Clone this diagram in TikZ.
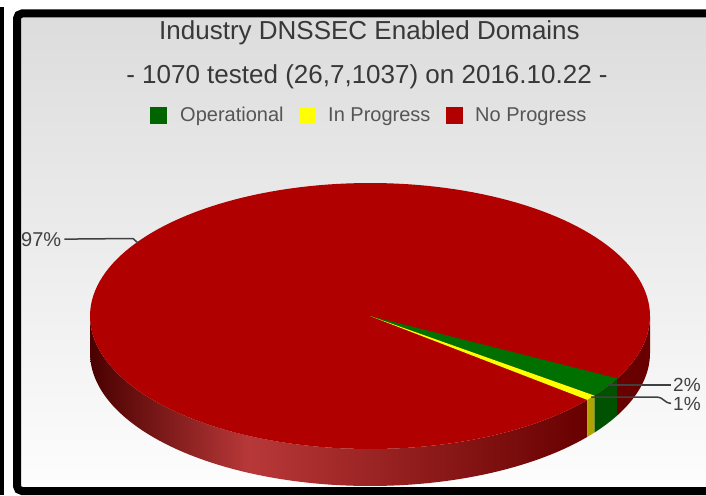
\documentclass[tikz,border=0pt]{standalone}
\usepackage{fontspec}
\setmainfont{Liberation Sans}
\definecolor{bgtop}{HTML}{DCDCDC}
\definecolor{bgbot}{HTML}{FDFDFD}
\definecolor{redtop}{HTML}{B00000}
\definecolor{greentop}{HTML}{007000}
\definecolor{yellowtop}{HTML}{FFFF00}
\definecolor{greenside}{HTML}{005200}
\definecolor{yellowside}{HTML}{B0A400}
\definecolor{reddark}{HTML}{680000}
\definecolor{rsa}{HTML}{4A0000}
\definecolor{rsb}{HTML}{B83838}
\definecolor{rsc}{HTML}{680000}
\definecolor{leggreen}{HTML}{006400}
\definecolor{titlegray}{HTML}{383838}
\definecolor{leggray}{HTML}{555555}
\definecolor{leadgray}{HTML}{404040}
\pgfdeclarehorizontalshading{redside}{100bp}{color(0bp)=(rsa); color(25bp)=(rsa); color(41bp)=(rsb); color(75bp)=(rsc); color(100bp)=(rsc)}
\tikzset{
  titletext/.style={anchor=base, inner sep=0pt, text=titlegray, font=\fontsize{26}{30}\selectfont},
  legtext/.style={anchor=base west, inner sep=0pt, text=leggray, font=\fontsize{20}{24}\selectfont},
  legsq/.style={draw=none, minimum size=17pt, inner sep=0pt},
  pcttext/.style={anchor=base west, inner sep=0pt, text=leadgray, font=\fontsize{19}{22}\selectfont},
  leader/.style={draw=leadgray, line width=1.5pt}
}
\def\pcx{370}
\def\pcy{316}
\def\prx{280}
\def\pry{133}
\def\pdp{37}
\begin{document}
\begin{tikzpicture}[x=1pt,y=-1pt]
\clip (0,0) rectangle (706,495);
\fill[white] (0,0) rectangle (706,495);
% neighbouring frame edge
\fill[black] (0,7) rectangle (4,495);
% chart background and frame
\shade[top color=bgtop, bottom color=bgbot] (17,13.5) rectangle (730,491);
\draw[line width=8pt, rounded corners=5pt] (17,13.5) rectangle (730,491);

% titles
\node[titletext] (title) at (369.5,40) {Industry DNSSEC Enabled Domains};
\node[titletext] (subtitle) at (367,83) {- 1070 tested (26,7,1037) on 2016.10.22 -};

% legend
\node[legsq, fill=leggreen] (sqop) at (158.5,115.5) {};
\node[legtext] (lop) at (180,121.5) {Operational};
\node[legsq, fill=yellowtop] (sqip) at (307,115.5) {};
\node[legtext] (lip) at (328,121.5) {In Progress};
\node[legsq, fill=redtop] (sqnp) at (454,115.5) {};
\node[legtext] (lnp) at (475,121.5) {No Progress};

% pie sides
\shade[shading=redside] plot[domain=39.1:180,samples=80] ({\pcx+\prx*cos(\x)},{\pcy+\pry*sin(\x)})
  -- plot[domain=180:39.1,samples=80] ({\pcx+\prx*cos(\x)},{\pcy+\pdp+\pry*sin(\x)}) -- cycle;
\fill[reddark] plot[domain=0:28,samples=30] ({\pcx+\prx*cos(\x)},{\pcy+\pry*sin(\x)})
  -- plot[domain=28:0,samples=30] ({\pcx+\prx*cos(\x)},{\pcy+\pdp+\pry*sin(\x)}) -- cycle;
\fill[greenside] plot[domain=28:36.75,samples=12] ({\pcx+\prx*cos(\x)},{\pcy+\pry*sin(\x)})
  -- plot[domain=36.75:28,samples=12] ({\pcx+\prx*cos(\x)},{\pcy+\pdp+\pry*sin(\x)}) -- cycle;
\fill[yellowside] plot[domain=36.75:39.1,samples=6] ({\pcx+\prx*cos(\x)},{\pcy+\pry*sin(\x)})
  -- plot[domain=39.1:36.75,samples=6] ({\pcx+\prx*cos(\x)},{\pcy+\pdp+\pry*sin(\x)}) -- cycle;

% pie top
\coordinate (pc) at (\pcx,\pcy);
\fill[redtop] plot[domain=0:360,samples=180] ({\pcx+\prx*cos(\x)},{\pcy+\pry*sin(\x)}) -- cycle;
\fill[greentop] (pc) -- plot[domain=28:36.75,samples=12] ({\pcx+\prx*cos(\x)},{\pcy+\pry*sin(\x)}) -- cycle;
\fill[yellowtop] (pc) -- plot[domain=36.75:39.1,samples=6] ({\pcx+\prx*cos(\x)},{\pcy+\pry*sin(\x)}) -- cycle;

% labels and leaders
\node[pcttext, font=\fontsize{20}{24}\selectfont] (t97) at (21,246) {97\%};
\coordinate (b97) at (133,238.5);
\coordinate (p97) at (138,243);
\draw[leader] ([xshift=3pt]t97.east) -- (b97) -- (p97);

\node[pcttext] (t2) at (673,391) {2\%};
\coordinate (p2) at (607,385);
\draw[leader] (p2) -- ([xshift=-2pt]t2.west |- p2);

\node[pcttext] (t1) at (673,410) {1\%};
\coordinate (p1) at (591,397);
\coordinate (b1) at (657,397);
\draw[leader] (p1) -- (b1) to[out=0,in=180] ([xshift=-2pt]t1.west);
\end{tikzpicture}
\end{document}
